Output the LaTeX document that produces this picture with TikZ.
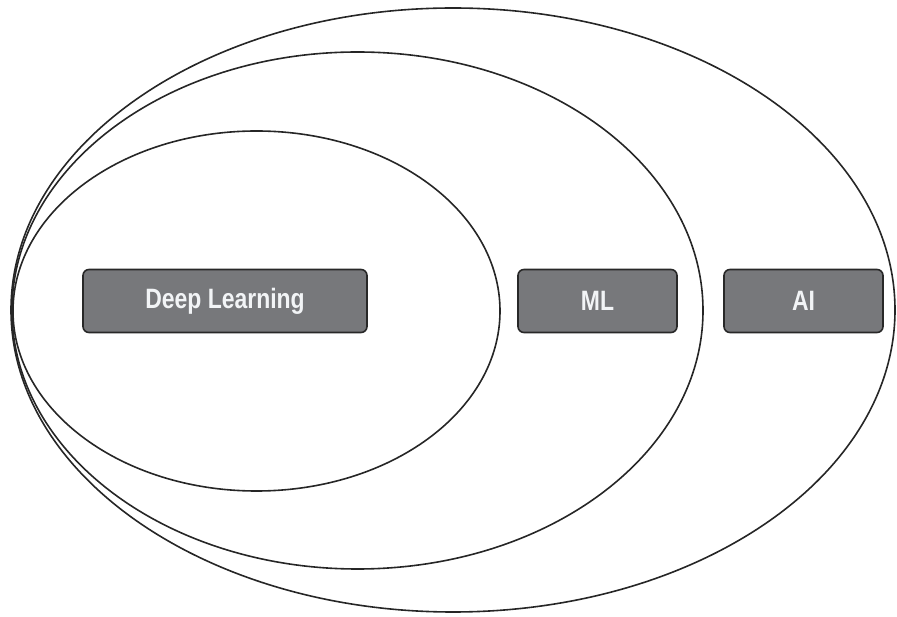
\documentclass[tikz,border=0pt]{standalone}
\usepackage{fontspec}
\usepackage{xcolor}
\usepackage{tikz}
\usetikzlibrary{positioning}
\newfontfamily\boxfont[FakeStretch=0.82]{Liberation Sans}
\definecolor{boxgray}{RGB}{119, 120, 123}
\definecolor{boxedge}{RGB}{40, 40, 40}
\definecolor{boxtext}{RGB}{242, 244, 246}

\begin{document}
\begin{tikzpicture}[
    x=1pt, y=1pt,
    field/.style={draw=black!85, line width=1.6pt},
    tag/.style={rectangle, rounded corners=6pt, draw=boxedge, line width=1.6pt, fill=boxgray, minimum height=63pt, text=boxtext, font=\boxfont\bfseries\fontsize{28}{32}\selectfont}
]
\useasboundingbox (0,0) rectangle (897,616);
\draw[field] (453,306) ellipse [x radius=442, y radius=302];
\draw[field] (357.5,305.5) ellipse [x radius=345.5, y radius=258.5];
\draw[field] (256.5,305) ellipse [x radius=243.5, y radius=180];
\node[tag, minimum width=284pt] (dl) at (225,315) {Deep Learning};
\node[tag, minimum width=159pt] (ml) at (597.5,315) {ML};
\node[tag, minimum width=159pt] (ai) at (803.5,315) {AI};
\end{tikzpicture}
\end{document}
